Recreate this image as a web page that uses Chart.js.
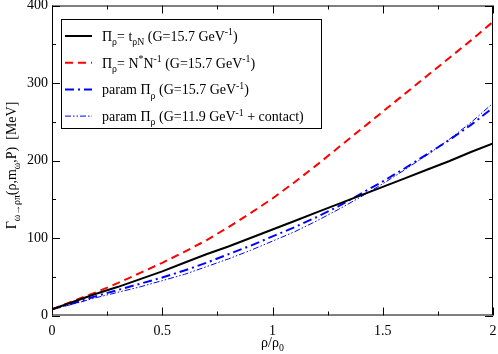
<!DOCTYPE html>
<html>
<head>
<meta charset="utf-8">
<script src="https://cdn.jsdelivr.net/npm/chart.js@4/dist/chart.umd.min.js"></script>
<style>
  html, body { margin: 0; padding: 0; background: #fff; }
  #wrap { width: 498px; height: 354px; }
</style>
</head>
<body>
<div id="wrap"><canvas id="gammaChart" width="498" height="354"></canvas></div>
<script>
// density rho/rho0
const rhoValues = [0, 0.1, 0.2, 0.3, 0.4, 0.5, 0.6, 0.7, 0.8, 0.9, 1.0,
                   1.1, 1.2, 1.3, 1.4, 1.5, 1.6, 1.7, 1.8, 1.9, 2.0];
// width in MeV
const gammaTrhoN   = [8, 18, 28, 37, 47, 57, 68, 79, 89, 100, 111,
                      122, 133, 144, 155, 166, 177, 188, 199, 211, 222];
const gammaNstarN  = [8, 19, 30, 42, 55, 68, 82, 97, 114, 132, 151,
                      172, 194, 217, 240, 263, 286, 309, 332, 355, 379];
const gammaParam   = [8, 16, 25, 33, 41, 49, 58, 68, 79, 90, 102,
                      114, 127, 141, 157, 173, 190, 208, 226, 246, 268];
const gammaContact = [8, 15, 23, 30, 37, 45, 53, 63, 73, 84, 96,
                      108, 122, 137, 153, 170, 188, 207, 227, 249, 274];

const xTicks = [0, 0.5, 1, 1.5, 2];
const yTicks = [0, 100, 200, 300, 400];

const SERIF = "'Liberation Serif', 'Times New Roman', serif";

// legend text pieces: [text, '' | 'sub' | 'sup']
const legendLabels = [
    [['\u03A0', ''], ['\u03C1', 'sub'], ['= t', ''], ['\u03C1N', 'sub'], [' (G=15.7 GeV', ''], ['-1', 'sup'], [')', '']],
    [['\u03A0', ''], ['\u03C1', 'sub'], ['= N', ''], ['*', 'sup'], ['N', ''], ['-1', 'sup'], [' (G=15.7 GeV', ''], ['-1', 'sup'], [')', '']],
    [['param \u03A0', ''], ['\u03C1', 'sub'], [' (G=15.7 GeV', ''], ['-1', 'sup'], [')', '']],
    [['param \u03A0', ''], ['\u03C1', 'sub'], [' (G=11.9 GeV', ''], ['-1', 'sup'], [' + contact)', '']],
];
const yTitle = [['\u0393', ''], ['\u03C9\u2192\u03C1\u03C0', 'sub'], ['(\u03C1,m', ''], ['\u03C9', 'sub'], [',P)  [MeV]', '']];
const xTitle = [['\u03C1/\u03C1', ''], ['0', 'sub']];

const toPoints = ys => ys.map((y, i) => ({ x: rhoValues[i], y }));

function richWidth(ctx, parts, size) {
    let w = 0;
    parts.forEach(([t, kind]) => {
        ctx.font = `${kind ? size * 0.7 : size}px ${SERIF}`;
        w += ctx.measureText(t).width;
    });
    return w;
}

function drawRich(ctx, parts, x, y, size) {
    let cx = x;
    ctx.textBaseline = 'alphabetic';
    ctx.textAlign = 'left';
    parts.forEach(([t, kind]) => {
        const s = kind ? size * 0.7 : size;
        ctx.font = `${s}px ${SERIF}`;
        let dy = 0;
        if (kind === 'sub') dy = size * 0.3;
        if (kind === 'sup') dy = -size * 0.4;
        ctx.fillText(t, cx, y + dy);
        cx += ctx.measureText(t).width;
    });
}

const decorPlugin = {
    id: 'decor',
    afterDraw(chart) {
        const { ctx, chartArea: a, scales } = chart;
        const xs = scales.x, ys = scales.y;
        ctx.save();
        ctx.strokeStyle = '#000';
        ctx.lineWidth = 1;
        // frame
        ctx.strokeRect(a.left + 0.5, a.top + 0.5, a.right - a.left - 1, a.bottom - a.top - 1);
        // inward ticks, all four sides
        ctx.beginPath();
        for (let v = 0; v <= 2.0001; v += 0.25) {
            const px = Math.round(xs.getPixelForValue(v)) + 0.5;
            const len = Math.abs(v * 2 - Math.round(v * 2)) < 1e-6 ? 8 : 4;
            ctx.moveTo(px, a.bottom); ctx.lineTo(px, a.bottom - len);
            ctx.moveTo(px, a.top); ctx.lineTo(px, a.top + len);
        }
        for (let v = 0; v <= 400; v += 50) {
            const py = Math.round(ys.getPixelForValue(v)) + 0.5;
            const len = v % 100 === 0 ? 8 : 4;
            ctx.moveTo(a.left, py); ctx.lineTo(a.left + len, py);
            ctx.moveTo(a.right, py); ctx.lineTo(a.right - len, py);
        }
        ctx.stroke();

        // axis titles
        ctx.fillStyle = '#000';
        const xw = richWidth(ctx, xTitle, 14);
        drawRich(ctx, xTitle, (a.left + a.right) / 2 - xw / 2, 347, 14);
        ctx.save();
        const yw = richWidth(ctx, yTitle, 14);
        ctx.translate(16, (a.top + a.bottom) / 2 + 5);
        ctx.rotate(-Math.PI / 2);
        drawRich(ctx, yTitle, -yw / 2, 0, 14);
        ctx.restore();

        // legend box
        const bx = 61, by = 19, bw = 260, bh = 109;
        ctx.fillStyle = '#fff';
        ctx.fillRect(bx, by, bw, bh);
        ctx.strokeRect(bx + 0.5, by + 0.5, bw, bh);
        chart.data.datasets.forEach((ds, i) => {
            const ly = 36 + i * 26.7;
            ctx.save();
            ctx.strokeStyle = ds.borderColor;
            ctx.lineWidth = ds.borderWidth;
            ctx.setLineDash(ds.borderDash || []);
            ctx.beginPath();
            ctx.moveTo(65, ly);
            ctx.lineTo(92, ly);
            ctx.stroke();
            ctx.restore();
            ctx.fillStyle = '#000';
            drawRich(ctx, legendLabels[i], 102, ly + 5, 14);
        });
        ctx.restore();
    }
};

const noPad = s => { s.paddingTop = 0; s.paddingBottom = 0; s.paddingLeft = 0; s.paddingRight = 0; };

new Chart(document.getElementById('gammaChart'), {
    type: 'line',
    data: {
        datasets: [
            {
                label: 'Pi_rho = t_rhoN (G=15.7 GeV^-1)',
                data: toPoints(gammaTrhoN),
                borderColor: '#000000',
                borderWidth: 2,
                pointRadius: 0,
                tension: 0,
            },
            {
                label: 'Pi_rho = N*N^-1 (G=15.7 GeV^-1)',
                data: toPoints(gammaNstarN),
                borderColor: '#ff0000',
                borderWidth: 2,
                borderDash: [8, 5],
                pointRadius: 0,
                tension: 0,
            },
            {
                label: 'param Pi_rho (G=15.7 GeV^-1)',
                data: toPoints(gammaParam),
                borderColor: '#0000ff',
                borderWidth: 2,
                borderDash: [9, 4, 2, 4],
                pointRadius: 0,
                tension: 0,
            },
            {
                label: 'param Pi_rho (G=11.9 GeV^-1 + contact)',
                data: toPoints(gammaContact),
                borderColor: '#0000ff',
                borderWidth: 1,
                borderDash: [6, 2, 1.5, 2, 1.5, 2],
                pointRadius: 0,
                tension: 0,
            },
        ]
    },
    options: {
        responsive: false,
        animation: false,
        devicePixelRatio: 1,
        layout: { padding: { left: 0, right: 5, top: 5.5, bottom: 0 } },
        plugins: { legend: { display: false }, tooltip: { enabled: false } },
        scales: {
            x: {
                type: 'linear',
                min: 0,
                max: 2,
                afterFit: s => { s.height = 38.5; noPad(s); },
                afterBuildTicks: s => { s.ticks = xTicks.map(v => ({ value: v })); },
                grid: { display: false, drawTicks: false },
                border: { display: false },
                ticks: { color: '#000', padding: 7, font: { family: SERIF, size: 14 }, callback: v => String(v) },
            },
            y: {
                type: 'linear',
                min: 0,
                max: 400,
                afterFit: s => { s.width = 52; noPad(s); },
                afterBuildTicks: s => { s.ticks = yTicks.map(v => ({ value: v })); },
                grid: { display: false, drawTicks: false },
                border: { display: false },
                ticks: { color: '#000', padding: 4, font: { family: SERIF, size: 14 }, callback: v => String(v) },
            },
        }
    },
    plugins: [decorPlugin]
});
</script>
</body>
</html>
